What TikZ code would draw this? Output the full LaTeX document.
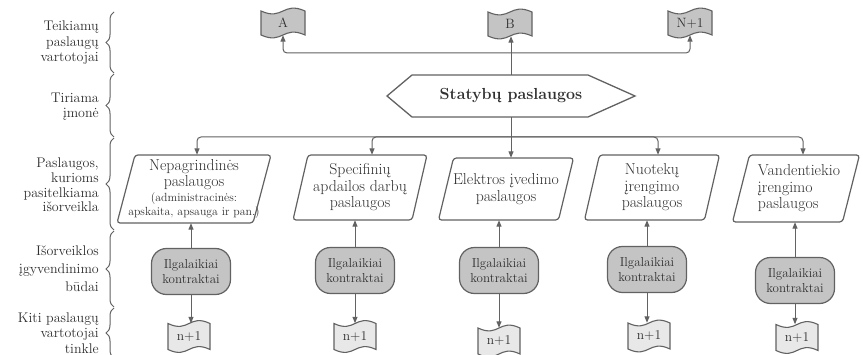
\documentclass[tikz,border=0pt]{standalone}
\usetikzlibrary{decorations.pathreplacing,arrows.meta}

\definecolor{linegray}{HTML}{626262}
\definecolor{inkgray}{HTML}{303030}
\definecolor{boxgray}{HTML}{C4C4C4}
\definecolor{tapegray}{HTML}{E8E8E8}

\tikzset{
  every node/.style={text=inkgray},
  conn/.style={draw=linegray, line width=1pt},
  arr/.style={conn, -{Triangle[length=6.5pt,width=5pt]}},
  busarr/.style={arr, rounded corners=4pt},
  outline/.style={draw=linegray, line width=1.2pt},
  rowlabel/.style={anchor=east, align=right, inner sep=0pt,
    font=\fontsize{14}{15.5}\selectfont},
  brc/.style={draw=linegray, line width=1pt, decorate,
    decoration={brace, amplitude=8pt}},
  slanttext/.style={inner sep=0pt, font=\fontsize{15.8}{16.5}\selectfont},
  contract/.style={outline, fill=boxgray, rounded corners=15pt,
    minimum width=79pt, minimum height=46pt, align=center, inner sep=0pt,
    font=\fontsize{13}{15}\selectfont},
  tapetext/.style={inner sep=0pt, font=\fontsize{13.5}{15}\selectfont},
}

% punched-tape symbol: name, x, y, width, height, fill, text
\newcommand\tapesym[7]{%
  \begin{scope}[shift={(#2,#3)}]
    \path[outline, line width=1.1pt, fill=#6]
      ({-#4/2},{-#5/2}) .. controls (0,{-#5/2+10}) and (0,{-#5/2-10}) .. ({#4/2},{-#5/2})
      -- ({#4/2},{#5/2}) .. controls (0,{#5/2-10}) and (0,{#5/2+10}) .. ({-#4/2},{#5/2})
      -- cycle;
  \end{scope}
  \node[tapetext, minimum width=#4pt, minimum height=#5pt] (#1) at (#2,#3) {#7};
}

% slanted (data) box: name, cx, cy, width, height, slant, text, node options
\newcommand\slantbox[8]{%
  \path[outline, fill=white, rounded corners=3pt]
    ({#2-#4/2-#6/2},{#3+#5/2}) -- ({#2+#4/2-#6/2},{#3+#5/2})
    -- ({#2+#4/2+#6/2},{#3-#5/2}) -- ({#2-#4/2+#6/2},{#3-#5/2}) -- cycle;
  \node[slanttext, minimum width=#4pt, minimum height=#5pt, #8] (#1) at (#2,#3) {#7};
}

\begin{document}
\begin{tikzpicture}[x=1pt, y=-1pt]
\clip (0,0) rectangle (863,355);
\fill[white] (0,0) rectangle (863,355);

% row labels
\node[rowlabel] (l1) at (99,43) {Teikiamų\\paslaugų\\vartotojai};
\node[rowlabel] (l2) at (99,106.5) {Tiriama\\įmonė};
\node[rowlabel, font=\fontsize{14}{14.8}\selectfont] (l3) at (99,185)
  {Paslaugos,\\kurioms\\pasitelkiama\\išorveikla};
\node[rowlabel] (l4) at (99,268.5) {Išorveiklos\\[2.5pt]įgyvendinimo\\[2.5pt]būdai};
\node[rowlabel] (l5) at (99,333) {Kiti paslaugų\\vartotojai\\tinkle};

% row braces
\draw[brc] (114,73) -- (114,12);
\draw[brc] (114,137) -- (114,74);
\draw[brc] (114,230) -- (114,138);
\draw[brc] (114,307) -- (114,231);
\draw[brc] (114,358) -- (114,308);

% service users
\tapesym{A}{283}{23}{44}{24}{boxgray}{A}
\tapesym{B}{510}{24}{44}{24}{boxgray}{B}
\tapesym{N}{690}{23}{44}{24}{boxgray}{N+1}

% company
\path[outline, line width=1.3pt, fill=white]
  (387,96) -- (412,75) -- (588,75) -- (635,96) -- (588,117) -- (412,117) -- cycle;
\node[inner sep=0pt, minimum width=248pt, minimum height=42pt,
  font=\fontsize{16}{18}\selectfont\bfseries] (hx) at (511,96) {Statybų paslaugos\hspace{8pt}};

% outsourced services
\slantbox{p1}{194}{189}{136}{68}{18}{Nepagrindinės\\paslaugos\\[-1.5pt]%
  {\fontsize{11.8}{13.5}\selectfont(administracinės:}\\[-2.5pt]%
  {\fontsize{11.8}{13.5}\selectfont apskaita, apsauga ir pan.)}}{align=center}
\slantbox{p2}{360}{187.5}{119}{65}{15}{Specifinių\\apdailos darbų\\paslaugos}{align=center}
\slantbox{p3}{506}{189}{120}{62}{15}{Elektros įvedimo\\paslaugos\hspace{6pt}}{align=center}
\slantbox{p4}{652}{187.5}{120}{65}{15}{Nuotekų\\įrengimo\\paslaugos}{align=center}
\slantbox{p5}{796}{188.5}{110}{67}{17}{\hspace{6pt}Vandentiekio\\\hspace{6pt}įrengimo\\\hspace{6pt}paslaugos}{align=left}

% long-term contracts
\node[contract] (r1) at (191,271.5) {Ilgalaikiai\\kontraktai};
\node[contract] (r2) at (355,270.5) {Ilgalaikiai\\kontraktai};
\node[contract] (r3) at (499,270.5) {Ilgalaikiai\\kontraktai};
\node[contract] (r4) at (647,269.5) {Ilgalaikiai\\kontraktai};
\node[contract] (r5) at (795,280.5) {Ilgalaikiai\\kontraktai};

% other users in the network
\tapesym{f1}{189}{336.5}{42}{26}{tapegray}{n+1}
\tapesym{f2}{355}{336.5}{42}{26}{tapegray}{n+1}
\tapesym{f3}{499}{341}{42}{26}{tapegray}{n+1}
\tapesym{f4}{649}{336}{42}{26}{tapegray}{n+1}
\tapesym{f5}{797}{337.5}{42}{26}{tapegray}{n+1}

% company -> service users
\coordinate (tj) at (511,53);
\draw[arr] (hx.north) -- (hx.north |- B.south);
\draw[busarr] (tj) -| (A.south);
\draw[busarr] (tj) -| (N.south);

% company -> outsourced services
\coordinate (bj) at (511,137);
\draw[conn] (hx.south) -- (bj);
\draw[arr] (bj) -- (bj |- p3.north);
\draw[busarr] (bj) -| ([xshift=3pt]p1.north);
\draw[busarr] (bj) -| ([xshift=12pt]p2.north);
\draw[busarr] (bj) -| ([xshift=6pt]p4.north);
\draw[busarr] (bj) -| ([xshift=7pt]p5.north);

% contracts -> services and network users
\foreach \i in {1,...,5}{
  \draw[arr] (r\i.north) -- (r\i.north |- p\i.south);
  \draw[arr] (r\i.south) -- (r\i.south |- f\i.north);
}
\end{tikzpicture}
\end{document}
